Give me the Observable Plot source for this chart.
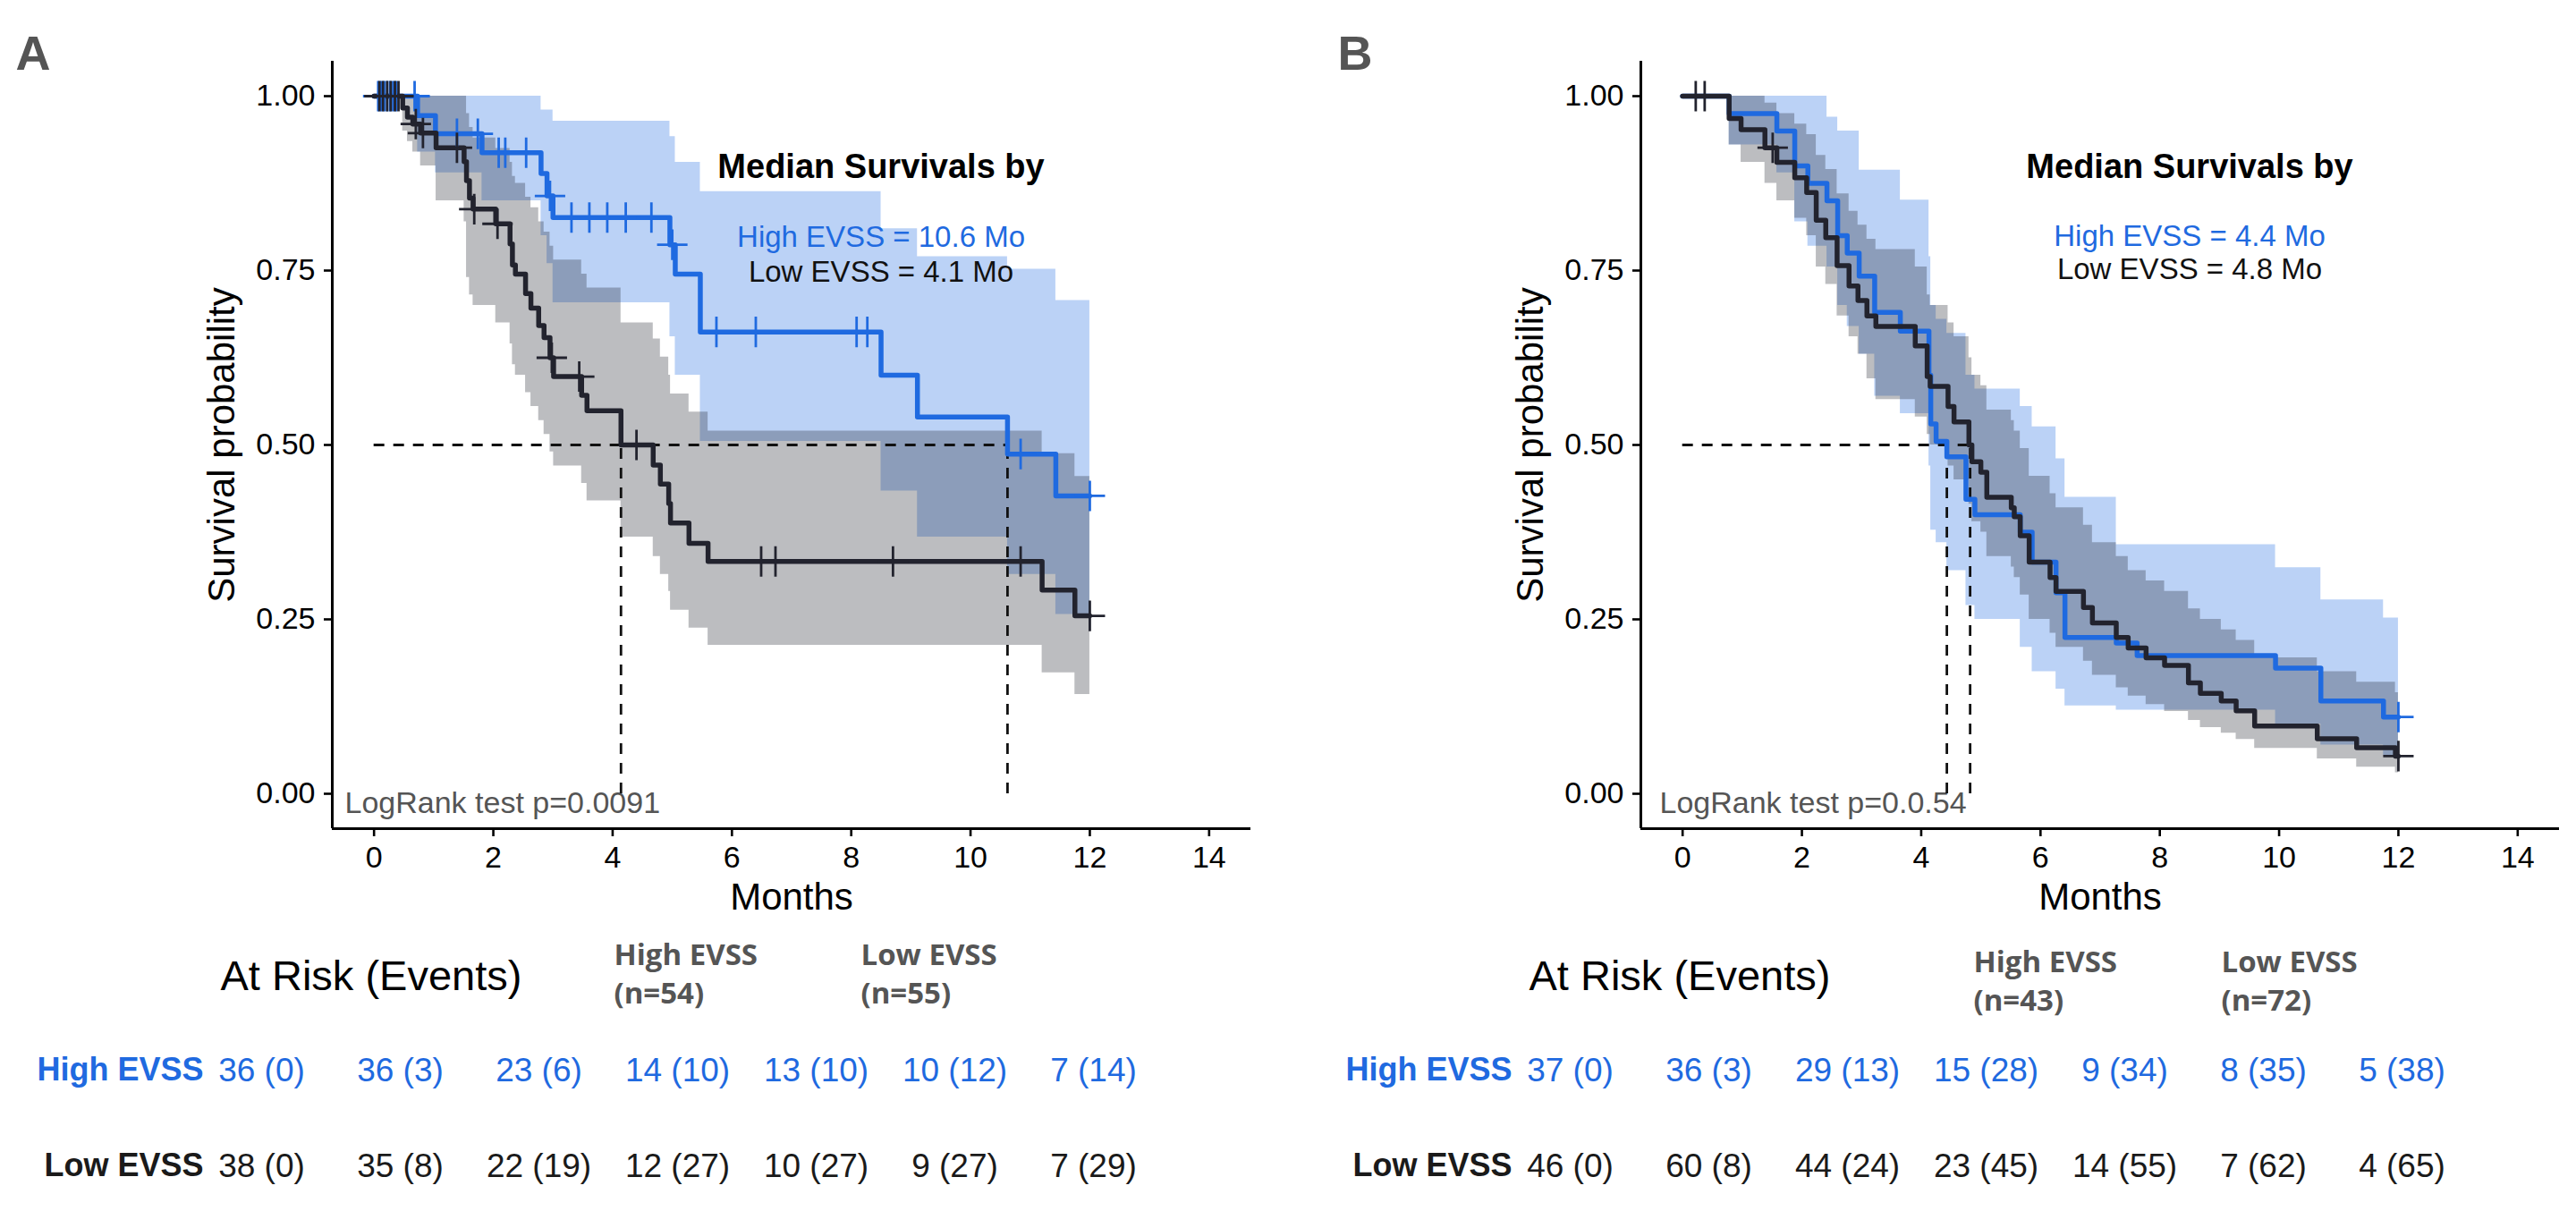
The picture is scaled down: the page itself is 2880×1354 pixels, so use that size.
<!DOCTYPE html>
<html><head><meta charset="utf-8">
<script src="https://cdn.jsdelivr.net/npm/d3@7"></script>
<script src="https://cdn.jsdelivr.net/npm/@observablehq/plot@0.6"></script>
<style>
html,body{margin:0;padding:0;background:#fff;}
#page{position:relative;width:2880px;height:1354px;overflow:hidden;background:#fff;}
.panel{position:absolute;top:0;height:1354px;}
.km{position:absolute;left:0;top:0;}
.tbl{position:absolute;left:0;top:1020px;}
svg{overflow:visible;}
</style></head><body><div id="page"></div>
<script>
// ---------- shared ----------
const groups = ["High EVSS", "Low EVSS"];
const monthTicks = [0, 2, 4, 6, 8, 10, 12, 14];
const survTicks = [0, 0.25, 0.5, 0.75, 1];
const xDomain = [-0.7, 14.7];
const yDomain = [-0.05, 1.05];
const endTime = 12;
const blue = "#1f6ae0";
const dark = "#22232e";

// ---------- Panel A ----------
const aHighTime = [0,0.73,1.03,1.81,2.80,2.90,3.00,4.96,5.05,5.47,8.50,9.11,10.62,11.43];
const aHighSurv = [1,0.972,0.946,0.919,0.889,0.857,0.826,0.787,0.745,0.662,0.600,0.540,0.487,0.427];
const aHighUpper = [1,1,1,1,0.98,0.98,0.964,0.942,0.905,0.863,0.81,0.77,0.752,0.707];
const aHighLower = [1,0.92,0.89,0.85,0.80,0.76,0.704,0.655,0.60,0.505,0.434,0.368,0.3145,0.257];
const aHighCensor = [0.07,0.12,0.17,0.22,0.27,0.32,0.37,0.68,1.39,1.74,2.09,2.20,2.55,2.95,3.31,3.61,3.91,4.22,4.65,5.00,5.74,6.40,8.09,8.27,10.84,12.0];

const aLowTime = [0,0.48,0.56,0.65,0.78,1.04,1.51,1.55,1.60,1.66,2.04,2.28,2.32,2.37,2.54,2.63,2.76,2.85,2.95,3.01,3.48,3.57,4.14,4.68,4.80,4.94,4.97,5.28,5.60,11.20,11.75];
const aLowSurv = [1,0.983,0.970,0.960,0.947,0.926,0.906,0.879,0.854,0.838,0.817,0.788,0.758,0.745,0.717,0.696,0.671,0.654,0.625,0.598,0.571,0.549,0.500,0.471,0.444,0.416,0.388,0.359,0.333,0.292,0.255];
const aLowUpper = [1,1,1,1,1,1,1,0.975,0.955,0.94,0.925,0.905,0.885,0.875,0.855,0.84,0.82,0.805,0.785,0.765,0.745,0.725,0.675,0.652,0.626,0.60,0.573,0.547,0.52,0.4876,0.4547];
const aLowLower = [1,0.95,0.935,0.92,0.90,0.85,0.82,0.74,0.715,0.70,0.675,0.645,0.615,0.60,0.575,0.555,0.535,0.515,0.49,0.47,0.445,0.42,0.368,0.34,0.3145,0.29,0.263,0.2376,0.2128,0.1735,0.1423];
const aLowCensor = [0.09,0.15,0.22,0.28,0.35,0.41,0.70,0.82,1.39,1.68,2.07,2.98,3.44,4.40,6.49,6.73,8.70,10.84,12.0];

const aMedians = [10.62, 4.14];
const aPValue = "0.0091";
const aN = [54, 55];
const aRiskHigh = [36,36,23,14,13,10,7];
const aEventsHigh = [0,3,6,10,10,12,14];
const aRiskLow = [38,35,22,12,10,9,7];
const aEventsLow = [0,8,19,27,27,27,29];

// ---------- Panel B ----------
const bHighTime = [0,0.78,1.58,1.88,2.10,2.42,2.60,2.76,2.96,3.22,3.65,4.13,4.16,4.25,4.43,4.75,4.90,5.66,5.86,6.26,6.41,7.27,7.62,9.94,10.70,11.75];
const bHighSurv = [1,0.975,0.950,0.900,0.875,0.850,0.800,0.775,0.742,0.690,0.663,0.600,0.530,0.505,0.483,0.422,0.400,0.375,0.332,0.288,0.224,0.216,0.198,0.180,0.133,0.110];
const bHighUpper = [1,1,1,1,1,0.97,0.95,0.95,0.894,0.894,0.851,0.77,0.70,0.68,0.66,0.60,0.58,0.555,0.526,0.48,0.425,0.357,0.357,0.324,0.278,0.252];
const bHighLower = [1,0.93,0.89,0.82,0.785,0.755,0.70,0.67,0.63,0.57,0.545,0.47,0.378,0.36,0.32,0.27,0.25,0.21,0.175,0.15,0.126,0.12,0.12,0.10,0.07,0.055];
const bHighCensor = [12.0];

const bLowTime = [0,0.78,0.98,1.38,1.58,1.88,2.08,2.24,2.40,2.59,2.79,2.94,3.09,3.24,3.90,4.10,4.15,4.45,4.55,4.80,4.85,5.00,5.10,5.51,5.56,5.66,5.81,6.16,6.26,6.72,6.87,7.27,7.47,7.77,8.08,8.48,8.68,9.03,9.28,9.59,10.64,11.30,11.95];
const bLowSurv = [1,0.968,0.952,0.926,0.905,0.883,0.862,0.822,0.797,0.757,0.728,0.707,0.685,0.670,0.642,0.598,0.584,0.555,0.533,0.500,0.476,0.461,0.425,0.410,0.397,0.370,0.332,0.310,0.290,0.267,0.245,0.224,0.209,0.195,0.184,0.159,0.144,0.133,0.119,0.097,0.079,0.066,0.054];
const bLowUpper = [1,1,1,0.99,0.975,0.96,0.945,0.915,0.895,0.86,0.835,0.815,0.795,0.78,0.755,0.715,0.70,0.675,0.655,0.625,0.60,0.585,0.55,0.535,0.52,0.495,0.455,0.43,0.41,0.385,0.36,0.34,0.32,0.305,0.29,0.265,0.25,0.235,0.22,0.195,0.175,0.16,0.145];
const bLowLower = [1,0.93,0.905,0.875,0.85,0.825,0.80,0.755,0.73,0.685,0.655,0.63,0.595,0.565,0.54,0.515,0.50,0.47,0.45,0.415,0.39,0.375,0.34,0.325,0.31,0.285,0.25,0.23,0.21,0.19,0.17,0.152,0.14,0.128,0.118,0.105,0.095,0.087,0.078,0.065,0.05,0.038,0.03];
const bLowCensor = [0.22,0.37,1.51,12.0];

const bMedians = [4.43, 4.82];
const bPValue = "0.0.54";
const bN = [43, 72];
const bRiskHigh = [37,36,29,15,9,8,5];
const bEventsHigh = [0,3,13,28,34,35,38];
const bRiskLow = [46,60,44,23,14,7,4];
const bEventsLow = [0,8,24,45,55,62,65];

// ---------- helpers ----------
const FONT = '"Liberation Sans", Arial, Helvetica, sans-serif';
const HFONT = '"Open Sans", "Noto Sans", sans-serif';
function stepRows(T, S, Lo, Hi) {
  const rows = T.map((t, i) => ({t, s: S[i], lo: Lo[i], hi: Hi[i]}));
  rows.push({t: endTime, s: S[S.length - 1], lo: Lo[Lo.length - 1], hi: Hi[Hi.length - 1]});
  return rows;
}
function survAt(T, S, t) {
  let v = S[0];
  for (let i = 0; i < T.length; i++) if (T[i] <= t) v = S[i];
  return v;
}
const dash = {stroke: "#111", strokeWidth: 2.8, strokeDasharray: "12,10"};

function kmPlot(c) {
  const high = stepRows(c.hT, c.hS, c.hLo, c.hHi);
  const low = stepRows(c.lT, c.lS, c.lLo, c.lHi);
  const W = c.width;
  return Plot.plot({
    width: W, height: 1040,
    marginLeft: 371, marginRight: W - 1398, marginTop: 68, marginBottom: 114,
    x: {domain: xDomain},
    y: {domain: yDomain},
    style: {fontFamily: FONT, background: "transparent", color: "#000"},
    marks: [
      Plot.areaY(high, {x: "t", y1: "lo", y2: "hi", curve: "step-after", fill: blue, fillOpacity: 0.3}),
      Plot.areaY(low, {x: "t", y1: "lo", y2: "hi", curve: "step-after", fill: dark, fillOpacity: 0.3}),
      Plot.text([`LogRank test p=${c.p}`], {frameAnchor: "bottom-left", dx: c.pDx, dy: -42, lineAnchor: "top", textAnchor: "start", fontSize: 34, fill: "#555"}),
      Plot.ruleY([0.5], {x1: 0, x2: d3.max(c.medians), ...dash}),
      Plot.ruleX(c.medians, {x: d => d, y1: 0, y2: 0.5, ...dash}),
      Plot.line(high, {x: "t", y: "s", curve: "step-after", stroke: blue, strokeWidth: 5.5}),
      Plot.line(low, {x: "t", y: "s", curve: "step-after", stroke: dark, strokeWidth: 5.5}),
      Plot.dot(c.hC, {x: d => d, y: d => survAt(c.hT, c.hS, d), symbol: "plus", r: 11, stroke: blue, strokeWidth: 2.8}),
      Plot.dot(c.lC, {x: d => d, y: d => survAt(c.lT, c.lS, d), symbol: "plus", r: 11, stroke: dark, strokeWidth: 2.8}),
      Plot.axisX({ticks: monthTicks, tickFormat: d => String(d), tickSize: 9, tickPadding: 10, fontSize: 34, strokeWidth: 2.6, label: null}),
      Plot.axisY({ticks: survTicks, tickFormat: d3.format(".2f"), tickSize: 9, tickPadding: 10, fontSize: 34, strokeWidth: 2.6, label: null}),
      Plot.ruleX([xDomain[0]], {stroke: "#000", strokeWidth: 3}),
      Plot.ruleY([yDomain[0]], {stroke: "#000", strokeWidth: 3}),
      Plot.text(["Months"], {frameAnchor: "bottom", dy: 77, lineAnchor: "middle", fontSize: 42}),
      Plot.text(["Survival probability"], {frameAnchor: "left", dx: -123, rotate: -90, lineAnchor: "middle", textAnchor: "middle", fontSize: 42}),
      Plot.text(["Median Survivals by"], {x: 8.5, frameAnchor: "top", dy: 104, lineAnchor: "top", fontSize: 38, fontWeight: "bold"}),
      Plot.text([`${groups[0]} = ${c.medians[0].toFixed(1)} Mo`], {x: 8.5, frameAnchor: "top", dy: c.medDy[0], lineAnchor: "top", fontSize: 33, fill: blue}),
      Plot.text([`${groups[1]} = ${c.medians[1].toFixed(1)} Mo`], {x: 8.5, frameAnchor: "top", dy: c.medDy[1], lineAnchor: "top", fontSize: 33, fill: "#111"}),
      Plot.text([c.tag], {frameAnchor: "top-left", dx: c.tagDx, dy: -29, lineAnchor: "top", textAnchor: "start", fontSize: 54, fontWeight: "bold", fill: "#555"})
    ]
  });
}

function riskTable(c) {
  const cols = d3.range(c.risk[0].length);
  const rowsFor = gi => cols.map(i => ({g: groups[gi], i, label: `${c.risk[gi][i]} (${c.events[gi][i]})`}));
  const hdr = {frameAnchor: "top-left", dy: c.hdrDy, lineAnchor: "top", textAnchor: "start", lineHeight: 1.3, fontSize: 33, fontWeight: 700, fontFamily: HFONT, fill: "#555"};
  return Plot.plot({
    width: c.width, height: 334, margin: 0,
    x: {type: "linear", domain: [0, cols.length - 1], range: [292, 1222], axis: null},
    y: {type: "point", domain: groups, range: [162, 269], padding: 0, axis: null},
    style: {fontFamily: FONT, background: "transparent", color: "#000"},
    marks: [
      Plot.text(["At Risk (Events)"], {frameAnchor: "top-left", dx: 246, dy: 53, lineAnchor: "top", textAnchor: "start", fontSize: 47, fill: "#000"}),
      Plot.text([`${groups[0]}\n(n=${c.n[0]})`], {...hdr, dx: c.hdrDx[0]}),
      Plot.text([`${groups[1]}\n(n=${c.n[1]})`], {...hdr, dx: c.hdrDx[1]}),
      Plot.text([groups[0]], {y: d => d, frameAnchor: "left", dx: 227, textAnchor: "end", lineAnchor: "top", fontSize: 36, fontWeight: "bold", fill: blue}),
      Plot.text([groups[1]], {y: d => d, frameAnchor: "left", dx: 227, textAnchor: "end", lineAnchor: "top", fontSize: 36, fontWeight: "bold", fill: "#1a1a1a"}),
      Plot.text(rowsFor(0), {x: "i", y: "g", text: "label", lineAnchor: "top", textAnchor: "middle", fontSize: 37, fill: blue}),
      Plot.text(rowsFor(1), {x: "i", y: "g", text: "label", lineAnchor: "top", textAnchor: "middle", fontSize: 37, fill: "#1a1a1a"})
    ]
  });
}

function panel(left, width, km, tbl) {
  const div = document.createElement("div");
  div.className = "panel";
  div.style.left = left + "px";
  div.style.width = width + "px";
  const k = kmPlot({...km, width}); k.classList.add("km");
  const t = riskTable({...tbl, width}); t.classList.add("tbl");
  div.appendChild(k); div.appendChild(t);
  document.getElementById("page").appendChild(div);
}

panel(0, 1440,
  {hT: aHighTime, hS: aHighSurv, hLo: aHighLower, hHi: aHighUpper, hC: aHighCensor,
   lT: aLowTime, lS: aLowSurv, lLo: aLowLower, lHi: aLowUpper, lC: aLowCensor,
   medians: aMedians, p: aPValue, pDx: 14, medDy: [184, 223], tag: "A", tagDx: -354},
  {risk: [aRiskHigh, aRiskLow], events: [aEventsHigh, aEventsLow], n: aN, hdrDx: [686, 962], hdrDy: 28});

panel(1463, 1417,
  {hT: bHighTime, hS: bHighSurv, hLo: bHighLower, hHi: bHighUpper, hC: bHighCensor,
   lT: bLowTime, lS: bLowSurv, lLo: bLowLower, lHi: bLowUpper, lC: bLowCensor,
   medians: bMedians, p: bPValue, pDx: 21, medDy: [183, 220], tag: "B", tagDx: -339},
  {risk: [bRiskHigh, bRiskLow], events: [bEventsHigh, bEventsLow], n: bN, hdrDx: [743, 1020], hdrDy: 36});
</script></body></html>
